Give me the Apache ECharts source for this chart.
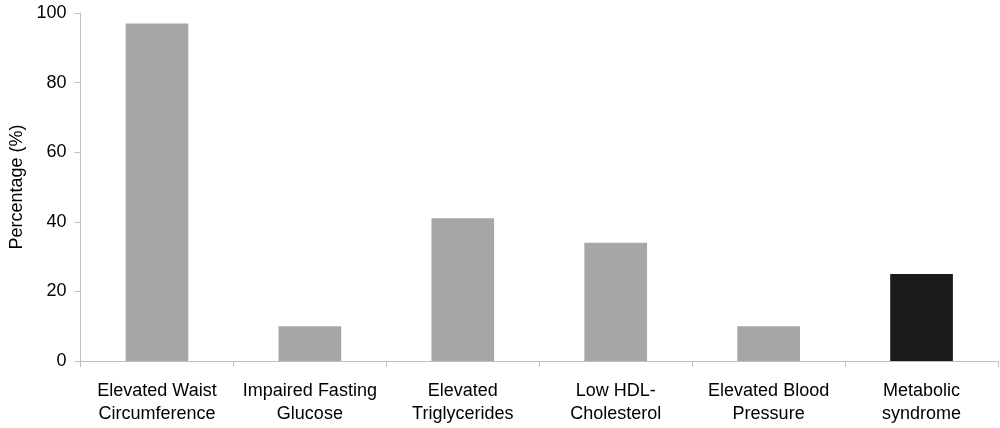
<!DOCTYPE html>
<html>
<head>
<meta charset="utf-8">
<script src="https://cdn.jsdelivr.net/npm/echarts@6/dist/echarts.min.js"></script>
<style>
html,body{margin:0;padding:0;background:#fff;}
#chart{width:1000px;height:428px;}
</style>
</head>
<body>
<div id="chart"></div>
<script>
const categories = [
  "Elevated Waist\nCircumference",
  "Impaired Fasting\nGlucose",
  "Elevated\nTriglycerides",
  "Low HDL-\nCholesterol",
  "Elevated Blood\nPressure",
  "Metabolic\nsyndrome"
];
const values = [97, 10, 41, 34, 10, 25];
const barColors = ["#a6a6a6", "#a6a6a6", "#a6a6a6", "#a6a6a6", "#a6a6a6", "#1a1a1a"];
const yTicks = { min: 0, max: 100, interval: 20 };
const yTitle = "Percentage (%)";

const chart = echarts.init(document.getElementById('chart'), null, { renderer: 'canvas' });
const font = 'Liberation Sans, Arial, sans-serif';
chart.setOption({
  animation: false,
  backgroundColor: '#ffffff',
  grid: { left: 80.5, right: 2, top: 13, bottom: 67, containLabel: false, outerBoundsMode: 'none' },
  xAxis: {
    type: 'category',
    data: categories,
    axisLine: { lineStyle: { color: '#bfbfbf', width: 1 } },
    axisTick: { show: true, alignWithLabel: false, length: 6, lineStyle: { color: '#bfbfbf' } },
    axisLabel: {
      color: '#000', fontFamily: font, fontSize: 18, margin: 18, lineHeight: 23.5,
      interval: 0
    },
    splitLine: { show: false }
  },
  yAxis: {
    type: 'value',
    min: yTicks.min, max: yTicks.max, interval: yTicks.interval,
    name: yTitle,
    nameLocation: 'middle',
    nameGap: 54,
    nameRotate: 90,
    nameTextStyle: { color: '#000', fontFamily: font, fontSize: 18 },
    axisLine: { show: true, lineStyle: { color: '#bfbfbf', width: 1 } },
    axisTick: { show: true, length: 6, lineStyle: { color: '#bfbfbf' } },
    axisLabel: { color: '#000', fontFamily: font, fontSize: 18, margin: 14 },
    splitLine: { show: false }
  },
  series: [{
    type: 'bar',
    data: values.map((v, i) => ({ value: v, itemStyle: { color: barColors[i] } })),
    barWidth: '41%'
  }]
});
</script>
</body>
</html>
